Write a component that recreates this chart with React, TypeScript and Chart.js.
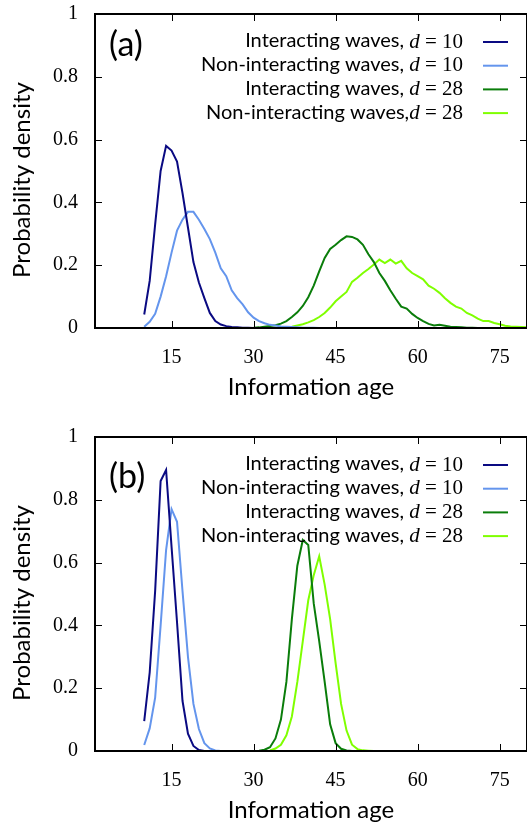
import React, { useEffect, useRef } from 'react';
import { Chart, registerables } from 'chart.js';

Chart.register(...registerables);

// ---------- data ----------
const xTickValues = [15, 30, 45, 60, 75];
const yTickValues = [0, 0.2, 0.4, 0.6, 0.8, 1];
const xRange = [1, 80];

const seriesColors = ['#0a0a82', '#6495ed', '#0a7d0a', '#7fff00'];

const labelsA = [
  'Interacting waves, d = 10',
  'Non-interacting waves, d = 10',
  'Interacting waves, d = 28',
  'Non-interacting waves,d = 28',
];
const labelsB = [
  'Interacting waves, d = 10',
  'Non-interacting waves, d = 10',
  'Interacting waves, d = 28',
  'Non-interacting waves, d = 28',
];

// Panel (a)
const ageA_int10 = [10, 11, 12, 13, 14, 15, 16, 17, 18, 19, 20, 21, 22, 23, 24, 25, 26, 27, 28, 29, 30];
const probA_int10 = [0.043, 0.15, 0.33, 0.5, 0.58, 0.565, 0.53, 0.43, 0.32, 0.21, 0.145, 0.095, 0.048, 0.022, 0.011, 0.006, 0.003, 0.002, 0.001, 0.0005, 0];

const ageA_non10 = [10, 11, 12, 13, 14, 15, 16, 17, 18, 19, 20, 21, 22, 23, 24, 25, 26, 27, 28, 29, 30, 31, 32, 33, 34, 35, 36, 37, 38, 39, 40, 41, 42, 43];
const probA_non10 = [0.004, 0.02, 0.045, 0.1, 0.165, 0.24, 0.31, 0.345, 0.37, 0.37, 0.345, 0.315, 0.283, 0.24, 0.19, 0.165, 0.12, 0.095, 0.075, 0.05, 0.033, 0.022, 0.015, 0.01, 0.008, 0.005, 0.004, 0.003, 0.002, 0.001, 0.001, 0.0005, 0.0003, 0];

const ageA_int28 = [30, 31, 32, 33, 34, 35, 36, 37, 38, 39, 40, 41, 42, 43, 44, 45, 46, 47, 48, 49, 50, 51, 52, 53, 54, 55, 56, 57, 58, 59, 60, 61, 62, 63, 64, 65, 66, 67, 68, 69, 70, 71];
const probA_int28 = [0.001, 0.002, 0.004, 0.006, 0.009, 0.014, 0.022, 0.035, 0.05, 0.07, 0.098, 0.135, 0.18, 0.223, 0.252, 0.265, 0.28, 0.292, 0.29, 0.282, 0.265, 0.235, 0.21, 0.175, 0.15, 0.12, 0.093, 0.068, 0.062, 0.045, 0.032, 0.022, 0.013, 0.008, 0.01, 0.007, 0.004, 0.003, 0.002, 0.001, 0.001, 0];

const ageA_non28 = [33, 34, 35, 36, 37, 38, 39, 40, 41, 42, 43, 44, 45, 46, 47, 48, 49, 50, 51, 52, 53, 54, 55, 56, 57, 58, 59, 60, 61, 62, 63, 64, 65, 66, 67, 68, 69, 70, 71, 72, 73, 74, 75, 76, 77, 78, 79, 80];
const probA_non28 = [0, 0.001, 0.001, 0.002, 0.004, 0.008, 0.012, 0.018, 0.025, 0.035, 0.048, 0.065, 0.085, 0.1, 0.115, 0.147, 0.16, 0.175, 0.188, 0.202, 0.218, 0.207, 0.218, 0.205, 0.214, 0.19, 0.175, 0.165, 0.155, 0.135, 0.125, 0.112, 0.095, 0.08, 0.068, 0.062, 0.048, 0.04, 0.03, 0.022, 0.022, 0.016, 0.012, 0.007, 0.005, 0.004, 0.003, 0.002];

// Panel (b)
const ageB_int10 = [10, 11, 12, 13, 14, 15, 16, 17, 18, 19, 20, 21];
const probB_int10 = [0.095, 0.25, 0.51, 0.86, 0.895, 0.65, 0.41, 0.16, 0.055, 0.016, 0.003, 0];

const ageB_non10 = [10, 11, 12, 13, 14, 15, 16, 17, 18, 19, 20, 21, 22, 23, 24];
const probB_non10 = [0.019, 0.072, 0.17, 0.4, 0.64, 0.77, 0.73, 0.51, 0.3, 0.15, 0.07, 0.025, 0.008, 0.002, 0];

const ageB_int28 = [30, 31, 32, 33, 34, 35, 36, 37, 38, 39, 40, 41, 42, 43, 44, 45, 46, 47, 48];
const probB_int28 = [0, 0.001, 0.004, 0.012, 0.04, 0.1, 0.22, 0.42, 0.59, 0.672, 0.656, 0.47, 0.35, 0.22, 0.085, 0.025, 0.007, 0.002, 0];

const ageB_non28 = [33, 34, 35, 36, 37, 38, 39, 40, 41, 42, 43, 44, 45, 46, 47, 48, 49, 50, 51, 52];
const probB_non28 = [0.002, 0.008, 0.02, 0.05, 0.11, 0.22, 0.35, 0.48, 0.56, 0.62, 0.53, 0.42, 0.28, 0.15, 0.065, 0.02, 0.006, 0.002, 0.001, 0];

const xTitle = 'Information age';
const yTitle = 'Probability density';

// ---------- layout / style ----------
const SANS = 'Lato';
const SERIF = 'Liberation Serif';

const panels = [
  {
    tag: '(a)',
    labels: labelsA,
    series: [
      { ages: ageA_int10, probs: probA_int10 },
      { ages: ageA_non10, probs: probA_non10 },
      { ages: ageA_int28, probs: probA_int28 },
      { ages: ageA_non28, probs: probA_non28 },
    ],
    height: 414,
    padTop: 14,
    xAxisHeight: 86,
    titlePadBottom: 12,
    tagDy: 31,
  },
  {
    tag: '(b)',
    labels: labelsB,
    series: [
      { ages: ageB_int10, probs: probB_int10 },
      { ages: ageB_non10, probs: probB_non10 },
      { ages: ageB_int28, probs: probB_int28 },
      { ages: ageB_non28, probs: probB_non28 },
    ],
    height: 415,
    padTop: 23,
    xAxisHeight: 78,
    titlePadBottom: 4,
    tagDy: 40,
  },
];

const decorPlugin = {
  id: 'decor',
  afterDraw(chart: any, _args: any, opts: any) {
    const { ctx, chartArea: ca, scales } = chart;
    const xs = scales.x;
    const ys = scales.y;
    ctx.save();
    // inward ticks
    ctx.strokeStyle = '#000';
    ctx.lineWidth = 1;
    ctx.beginPath();
    for (const v of xTickValues) {
      const px = Math.round(xs.getPixelForValue(v)) + 0.5;
      ctx.moveTo(px, ca.bottom);
      ctx.lineTo(px, ca.bottom - 7);
      ctx.moveTo(px, ca.top);
      ctx.lineTo(px, ca.top + 7);
    }
    for (const v of yTickValues) {
      const py = Math.round(ys.getPixelForValue(v)) + 0.5;
      ctx.moveTo(ca.left, py);
      ctx.lineTo(ca.left + 7, py);
      ctx.moveTo(ca.right, py);
      ctx.lineTo(ca.right - 7, py);
    }
    ctx.stroke();
    // frame
    ctx.lineWidth = 2;
    ctx.strokeRect(ca.left, ca.top, ca.right - ca.left, ca.bottom - ca.top);

    // panel tag
    ctx.fillStyle = '#000';
    ctx.font = `34px ${SANS}`;
    ctx.textAlign = 'left';
    ctx.textBaseline = 'middle';
    ctx.fillText(opts.tag, ca.left + 14, ca.top + opts.tagDy);

    // legend
    const textRight = ca.right - 64;
    chart.data.datasets.forEach((ds: any, i: number) => {
      const y = ca.top + 27 + 23.7 * i;
      const m = /^(.*?)(d)( = .*)$/.exec(ds.label);
      const prefix = m ? m[1] : ds.label;
      const dv = m ? m[2] : '';
      const rest = m ? m[3] : '';
      ctx.textBaseline = 'middle';
      ctx.textAlign = 'left';
      const fSans = `20px ${SANS}`;
      const fItal = `italic 21px ${SERIF}`;
      const fRom = `21px ${SERIF}`;
      ctx.font = fSans;
      const w1 = ctx.measureText(prefix).width;
      ctx.font = fItal;
      const w2 = ctx.measureText(dv).width;
      ctx.font = fRom;
      const w3 = ctx.measureText(rest).width;
      let x = textRight - (w1 + w2 + w3);
      ctx.font = fSans;
      ctx.fillText(prefix, x, y);
      x += w1;
      ctx.font = fItal;
      ctx.fillText(dv, x, y + 1);
      x += w2;
      ctx.font = fRom;
      ctx.fillText(rest, x, y + 1);
      ctx.strokeStyle = ds.borderColor;
      ctx.lineWidth = 2;
      ctx.beginPath();
      ctx.moveTo(ca.right - 44, y + 1);
      ctx.lineTo(ca.right - 19, y + 1);
      ctx.stroke();
    });

    // y title
    ctx.translate(22, (ca.top + ca.bottom) / 2 + 9);
    ctx.rotate(-Math.PI / 2);
    ctx.fillStyle = '#000';
    ctx.font = `24px ${SANS}`;
    ctx.textAlign = 'center';
    ctx.textBaseline = 'middle';
    ctx.fillText(yTitle, 0, 0);
    ctx.restore();
  },
};

function zeroPads(s: any) {
  s.paddingTop = 0;
  s.paddingBottom = 0;
  s.paddingLeft = 0;
  s.paddingRight = 0;
}

function Panel({ cfg }: { cfg: any }) {
  const ref = useRef<HTMLCanvasElement>(null);
  useEffect(() => {
    const chart = new Chart(ref.current as HTMLCanvasElement, {
      type: 'line',
      data: {
        datasets: cfg.series.map((s: any, i: number) => ({
          label: cfg.labels[i],
          data: s.ages.map((a: number, j: number) => ({ x: a, y: s.probs[j] })),
          borderColor: seriesColors[i],
          backgroundColor: seriesColors[i],
          borderWidth: 2,
          pointRadius: 0,
          tension: 0,
          fill: false,
        })),
      },
      options: {
        responsive: false,
        animation: false,
        devicePixelRatio: 1,
        layout: { padding: { top: cfg.padTop, left: 0, right: 0, bottom: 0 } },
        plugins: {
          legend: { display: false },
          tooltip: { enabled: false },
          decor: { tag: cfg.tag, tagDy: cfg.tagDy },
        } as any,
        scales: {
          x: {
            type: 'linear',
            min: xRange[0],
            max: xRange[1],
            afterBuildTicks: (s: any) => {
              s.ticks = xTickValues.map((v) => ({ value: v }));
            },
            afterFit: (s: any) => {
              s.height = cfg.xAxisHeight;
              zeroPads(s);
            },
            grid: { display: false, drawTicks: false },
            border: { display: false },
            ticks: {
              color: '#000',
              font: { family: SERIF, size: 20 },
              padding: 18,
              maxRotation: 0,
              autoSkip: false,
              callback: (v: any) => String(v),
            },
            title: {
              display: true,
              text: xTitle,
              color: '#000',
              font: { family: SANS, size: 24 },
              padding: { top: 0, bottom: cfg.titlePadBottom },
            },
          },
          y: {
            type: 'linear',
            min: 0,
            max: 1,
            afterBuildTicks: (s: any) => {
              s.ticks = yTickValues.map((v) => ({ value: v }));
            },
            afterFit: (s: any) => {
              s.width = 95;
              zeroPads(s);
            },
            grid: { display: false, drawTicks: false },
            border: { display: false },
            ticks: {
              color: '#000',
              font: { family: SERIF, size: 20 },
              padding: 17,
              callback: (v: any) => String(+Number(v).toFixed(1)),
            },
          },
        },
      } as any,
      plugins: [decorPlugin],
    });
    return () => chart.destroy();
  }, [cfg]);
  return (
    <canvas
      ref={ref}
      width={527}
      height={cfg.height}
      style={{ display: 'block', width: 527, height: cfg.height }}
    />
  );
}

export default function App() {
  return (
    <div style={{ position: 'absolute', left: 0, top: 0, width: 527, height: 829, background: '#fff' }}>
      {panels.map((p) => (
        <Panel key={p.tag} cfg={p} />
      ))}
    </div>
  );
}
